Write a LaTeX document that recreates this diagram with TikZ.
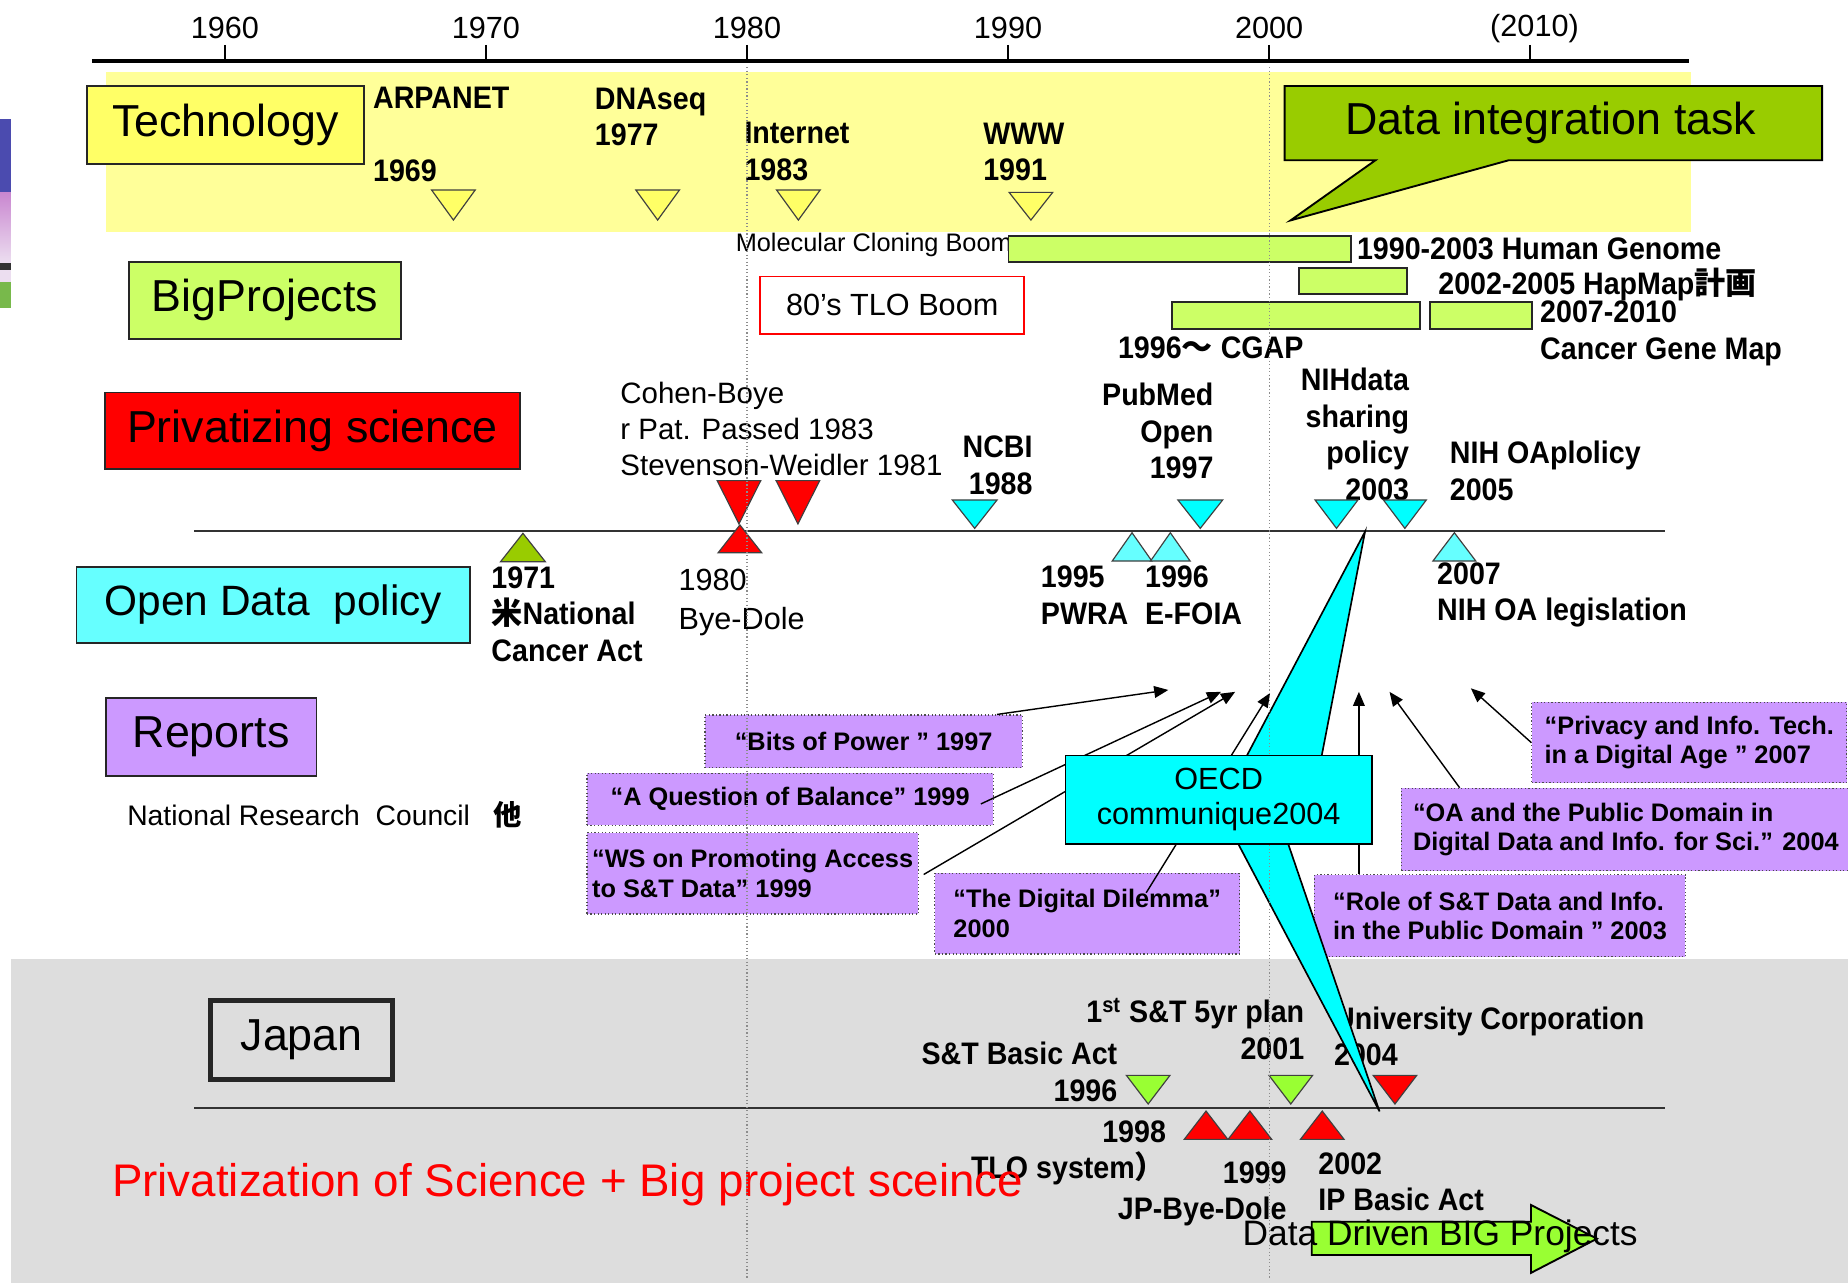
\documentclass[tikz,border=0pt]{standalone}
\usepackage{fontspec}
\setmainfont{Liberation Sans}
\newfontfamily\evfont{Liberation Sans}[FakeStretch=0.92]
\newfontfamily\cjk{Noto Sans CJK JP}
\usetikzlibrary{arrows.meta,calc}
\definecolor{bandyellow}{RGB}{255,255,153}
\definecolor{boxyellow}{RGB}{255,255,102}
\definecolor{techolive}{RGB}{153,204,0}
\definecolor{bargreen}{RGB}{204,255,102}
\definecolor{aquafill}{RGB}{0,255,255}
\definecolor{paleaqua}{RGB}{102,255,255}
\definecolor{reppurple}{RGB}{204,153,255}
\definecolor{jpgreen}{RGB}{153,255,51}
\definecolor{jpgray}{RGB}{221,221,221}
\definecolor{dotgray}{RGB}{140,140,140}
\definecolor{stripblue}{RGB}{75,75,175}
\definecolor{strippink}{RGB}{201,135,208}
\definecolor{strippale}{RGB}{236,222,240}
\definecolor{stripgreen}{RGB}{120,185,75}
\tikzset{
  catbox/.style={draw=black!85, line width=0.8pt, fill=#1, inner sep=0pt,
    font=\fontsize{19}{22}\selectfont},
  yearlabel/.style={font=\fontsize{13}{15}\selectfont, inner sep=0pt},
  event/.style={font=\evfont\fontsize{13.2}{15.5}\selectfont\bfseries, inner sep=0pt, align=left},
  eventr/.style={font=\evfont\fontsize{13.2}{15.5}\selectfont\bfseries, inner sep=0pt, align=right},
  note/.style={font=\fontsize{12.5}{15.2}\selectfont, inner sep=0pt, align=left},
  report/.style={draw=black!70, densely dotted, line width=0.5pt, fill=reppurple,
    font=\fontsize{10.75}{12.5}\selectfont\bfseries, align=left, inner sep=0pt},
  bar/.style={draw=black!85, line width=0.8pt, fill=bargreen},
  tri/.style={draw=black!75, line width=0.5pt},
  reparrow/.style={-{Triangle[length=6pt,width=5pt]}, line width=0.6pt},
  guide/.style={dotgray, densely dotted, line width=0.5pt}
}
\newcommand{\downtri}[5][18.5]{\draw[tri, fill=#5] (#2-#1,#3) -- (#2+#1,#3) -- (#2,#4) -- cycle;}
\newcommand{\uptri}[5][18.5]{\draw[tri, fill=#5] (#2,#3) -- (#2+#1,#4) -- (#2-#1,#4) -- cycle;}

\begin{document}
\begin{tikzpicture}[x=0.5pt,y=-0.5pt]
  \useasboundingbox (0,0) rectangle (1568,1089);

  % backgrounds
  \fill[jpgray] (9,814) rectangle (1568,1089);
  \fill[bandyellow] (90,61) rectangle (1435,197);
  \fill[stripblue] (0,101) rectangle (9.3,163.5);
  \shade[top color=strippink, bottom color=strippale] (0,163.5) rectangle (9.3,223);
  \fill[black!80] (0,223) rectangle (9.3,229);
  \fill[strippale] (0,229) rectangle (9.3,239);
  \fill[stripgreen] (0,239) rectangle (9.3,261);

  % time axis
  \draw[line width=1.7pt] (78,52) -- (1433,52);
  \foreach \yr/\xx in {1960/190.8,1970/412.3,1980/633.8,1990/855.3,2000/1076.8} {
    \draw[line width=0.6pt] (\xx,38) -- (\xx,52);
    \node[yearlabel] (y\yr) at (\xx,24) {\yr};
  }
  \draw[line width=0.6pt] (1298.3,38) -- (1298.3,52);
  \node[yearlabel] (y2010) at (1302,24) {(2010)};

  % category boxes
  \node[catbox=boxyellow, minimum width=117.5pt, minimum height=33pt] (tech) at (191.2,106.1) {Technology};
  \node[catbox=bargreen, minimum width=115.2pt, minimum height=32.8pt] (bigproj) at (224.8,254.8) {BigProjects};
  \node[catbox=red, minimum width=175.9pt, minimum height=32.6pt] (priv) at (265.2,365.6) {Privatizing science};
  \node[catbox=paleaqua, minimum width=167pt, minimum height=32pt,
    font=\fontsize{18}{21}\selectfont] (opendata) at (231.9,513.3) {Open Data\ \ policy};
  \node[catbox=reppurple, minimum width=89.4pt, minimum height=32.8pt] (reports) at (179.1,625.3) {Reports};
  \node[catbox=jpgray, line width=2pt, minimum width=77.3pt, minimum height=33.6pt] (japan) at (256,882.2) {Japan};

  % technology
  \node[event, anchor=west] (arpanet) at (316.2,114.1) {ARPANET\\[15.2pt]1969};
  \node[event, anchor=west] (dnaseq) at (504.4,99.4) {DNAseq\\1977};
  \node[event, anchor=west] (internet) at (631.3,128.4) {Internet\\1983};
  \node[event, anchor=west] (www) at (833.9,129) {WWW\\1991};
  \downtri{384.7}{161.2}{186.7}{boxyellow}
  \downtri{558}{161.2}{186.7}{boxyellow}
  \downtri{677.4}{161.2}{186.7}{boxyellow}
  \downtri{874.7}{163.2}{186.7}{boxyellow}

  \draw[line width=0.8pt, fill=techolive] (1090,73) -- (1546,73) -- (1546,136) -- (1280,136)
    -- (1095,187) -- (1167,136) -- (1090,136) -- cycle;
  \node[font=\fontsize{19}{22}\selectfont, inner sep=0pt] (dit) at (1316,104.6) {Data integration task};

  % big projects
  \node[font=\fontsize{10.75}{13}\selectfont, inner sep=0pt, anchor=west] (molclone) at (623.9,207.9) {Molecular Cloning Boom};
  \draw[bar] (855.7,200.2) rectangle (1146,222);
  \draw[bar] (1102.2,227.1) rectangle (1193.6,249.5);
  \draw[bar] (994.4,256) rectangle (1204.8,279.2);
  \draw[bar] (1213.5,256) rectangle (1299.7,279.3);
  \node[event, anchor=west] (humgen) at (1151,210.7) {1990-2003 Human Genome};
  \node[event, anchor=west] (hapmap) at (1220,241.8) {2002-2005 HapMap{\cjk 計画}};
  \node[event, anchor=west] (cgmap) at (1306.4,282.9) {2007-2010\\Cancer Gene Map};
  \node[event, anchor=west] (cgap) at (948.2,295.5) {1996{\cjk ～} CGAP};
  \node[draw=red, line width=0.7pt, fill=white, minimum width=112pt, minimum height=24.3pt,
    inner sep=0pt, font=\fontsize{13}{15}\selectfont] (tloboom) at (757,259) {80's TLO Boom};

  % privatizing science / open data
  \node[note, anchor=west] (cohen) at (526,364.1) {Cohen-Boye\\r Pat. Passed 1983\\Stevenson-Weidler 1981};
  \node[eventr, anchor=east] (ncbi) at (876.5,394.7) {NCBI\\1988};
  \node[eventr, anchor=east] (pubmed) at (1030,365.8) {PubMed\\Open\\1997};
  \node[eventr, anchor=east] (nihdata) at (1196,368.4) {NIHdata\\sharing\\policy\\2003};
  \node[event, anchor=west] (nihoa) at (1229.8,399.5) {NIH OAplolicy\\2005};

  \draw[line width=0.9pt, black!80] (165,450.5) -- (1412.5,450.5);
  \downtri{627}{407.8}{444.5}{red}
  \downtri{677}{407.8}{444.5}{red}
  \uptri{627.8}{445.4}{469}{red}
  \uptri[19]{443.7}{452.5}{476.6}{techolive}
  \downtri[19]{827}{424.2}{448.3}{aquafill}
  \downtri[19]{1018.4}{424.2}{448.3}{aquafill}
  \downtri[18.2]{1134}{424.2}{448.3}{aquafill}
  \downtri[18.2]{1192}{424.2}{448.3}{aquafill}
  \uptri[16.8]{960.5}{452}{476}{paleaqua}
  \uptri[16.8]{993}{452}{476}{paleaqua}
  \uptri[18.2]{1234}{452}{476}{paleaqua}

  \node[event, anchor=west] (cancact) at (416.6,521.1) {1971\\{\cjk 米}National\\Cancer Act};
  \node[font=\fontsize{13}{16.3}\selectfont, inner sep=0pt, align=left, anchor=west] (byedole) at (575.4,511.2) {1980\\Bye-Dole};
  \node[event, anchor=west] (pwra) at (882.8,504.9) {1995\\PWRA};
  \node[event, anchor=west] (efoia) at (971.2,504.9) {1996\\E-FOIA};
  \node[event, anchor=west] (nihleg) at (1219,504.9) {2007\\NIH OA legislation};

  % reports
  \node[font=\fontsize{12}{14}\selectfont, inner sep=0pt, anchor=west] (nrc) at (107.6,691.5)
    {National Research\ \ Council\ \ \ {\cjk\bfseries 他}};
  \node[report, minimum width=134.6pt, minimum height=22.4pt] (bits) at (732.8,629.1) {“Bits of Power ” 1997};
  \node[report, minimum width=172.4pt, minimum height=22pt] (question) at (670.4,678.1) {“A Question of Balance” 1999};
  \node[report, minimum width=140.6pt, minimum height=34.5pt] (wsaccess) at (638.6,741) {“WS on Promoting Access\\to S\&T Data” 1999};
  \node[report, minimum width=129.3pt, minimum height=34.2pt] (dilemma) at (922.5,775.2) {“The Digital Dilemma”\\2000};
  \node[report, minimum width=157.4pt, minimum height=34.7pt] (role) at (1272.7,777) {“Role of S\&T Data and Info.\\in the Public Domain ” 2003};
  \node[report, minimum width=190.5pt, minimum height=34.9pt] (oapd) at (1379.5,703.8) {“OA and the Public Domain in\\Digital Data and Info. for Sci.” 2004};
  \node[report, minimum width=133.6pt, minimum height=34.1pt] (privacy) at (1433.3,630) {“Privacy and Info. Tech.\\in a Digital Age ” 2007};

  \coordinate (tbits) at (991.3,585.4);
  \coordinate (tquestion) at (1036,587);
  \coordinate (twsaccess) at (1048,587);
  \coordinate (tdilemma) at (1077.6,588);
  \coordinate (trole) at (1153,587);
  \coordinate (toapd) at (1179,587);
  \coordinate (tprivacy) at (1248,584);
  \draw[reparrow] ($(bits.north east)+(-22,0)$) -- (tbits);
  \draw[reparrow] ($(question.east)+(-11,4)$) -- (tquestion);
  \draw[reparrow] ($(wsaccess.east)+(4,1)$) -- (twsaccess);
  \draw[reparrow] ($(dilemma.north)+(50,17)$) -- (tdilemma);
  \draw[reparrow] ($(role.north)+(-119.7,0)$) -- (trole);
  \draw[reparrow] ($(oapd.north west)+(50,0)$) -- (toapd);
  \draw[reparrow] (privacy.west) -- (tprivacy);

  % japan
  \draw[line width=0.9pt, black!80] (165,940.4) -- (1412.5,940.4);
  \node[eventr, anchor=east] (fiveyr) at (1107,873.2) {1\textsuperscript{st} S\&T 5yr plan\\2001};
  \node[eventr, anchor=east] (stbasic) at (948.4,909.5) {S\&T Basic Act\\1996};
  \node[event, anchor=west] (univcorp) at (1131.6,879.2) {University Corporation\\2004};
  \node[eventr, anchor=east] (tlosys) at (989.7,978.2) {1998\\TLO system{\cjk ）}};
  \node[eventr, anchor=east] (jpbd) at (1092,1012.8) {1999\\JP-Bye-Dole};
  \node[event, anchor=west] (ipbasic) at (1118.3,1002.6) {2002\\IP Basic Act};
  \downtri{974.2}{912.4}{936.7}{jpgreen}
  \downtri{1095.2}{912.4}{936.7}{jpgreen}
  \downtri{1183.6}{912.4}{936.7}{red}
  \uptri{1023.3}{942.7}{966.7}{red}
  \uptri{1060.5}{942.7}{966.7}{red}
  \uptri{1121.9}{942.7}{966.7}{red}

  \node[font=\fontsize{19.4}{23}\selectfont, text=red, inner sep=0pt, anchor=west] (slogan) at (94.7,1005.4)
    {Privatization of Science + Big project sceince};
  \draw[line width=0.8pt, fill=jpgreen] (1113,1036.6) -- (1299,1036.6) -- (1299,1022.4) -- (1355,1051)
    -- (1299,1080) -- (1299,1064.8) -- (1113,1064.8) -- cycle;
  \node[font=\fontsize{15}{18}\selectfont, inner sep=0pt, anchor=west] (ddbp) at (1054,1049.3) {Data Driven BIG Projects};

  % OECD callout
  \draw[line width=0.7pt, fill=aquafill] (1057.8,641.4) -- (1158.2,451.1) -- (1121.4,641.4) -- cycle;
  \draw[line width=0.7pt, fill=aquafill] (1050.6,716) -- (1170.5,943) -- (1093,716) -- cycle;
  \draw[guide] (633.8,57) -- (633.8,1085);
  \draw[guide] (1077,57) -- (1077,1085);
  \node[draw, line width=0.8pt, fill=aquafill, minimum width=130pt, minimum height=37.5pt, inner sep=0pt,
    align=center, font=\fontsize{13}{15}\selectfont] (oecd) at (1034,678.5) {OECD\\communique2004};
\end{tikzpicture}
\end{document}
